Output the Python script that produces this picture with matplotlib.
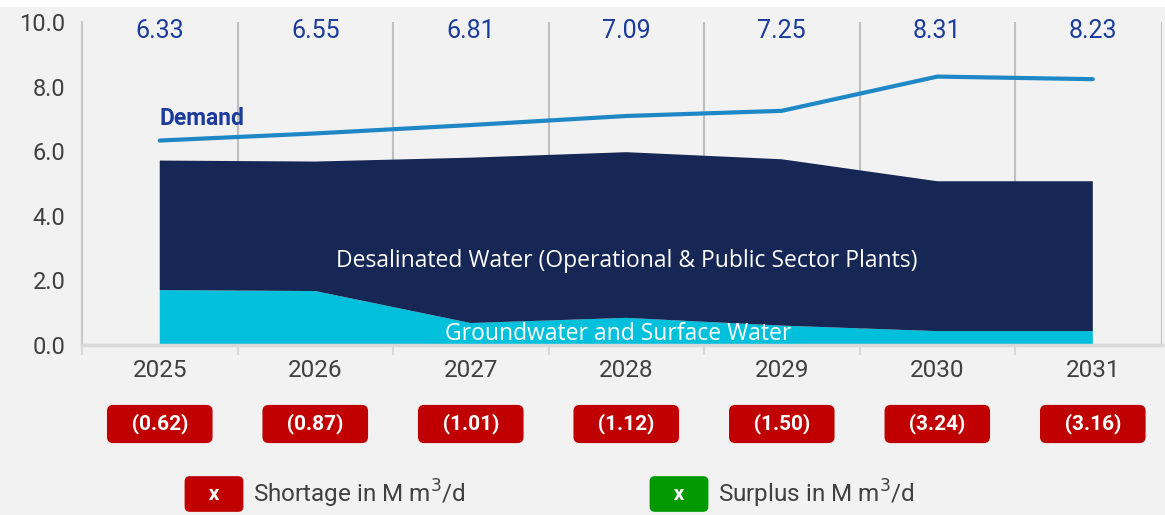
import numpy as np
import matplotlib
matplotlib.use("Agg")
import matplotlib.pyplot as plt
from matplotlib.transforms import blended_transform_factory

# data
years = ["2025", "2026", "2027", "2028", "2029", "2030", "2031"]
demand = [6.33, 6.55, 6.81, 7.09, 7.25, 8.31, 8.23]
groundwater = [1.70, 1.67, 0.68, 0.84, 0.60, 0.43, 0.43]
desalinated = [4.01, 4.01, 5.12, 5.13, 5.15, 4.64, 4.64]
shortage = ["(0.62)", "(0.87)", "(1.01)", "(1.12)", "(1.50)", "(3.24)", "(3.16)"]
y_ticks = [0, 2, 4, 6, 8, 10]

bg = "#f2f2f2"
navy = "#162755"
cyan = "#00c0dc"
line_blue = "#1e88c6"
label_blue = "#1a3a9c"
red = "#c00000"
green = "#009a00"
txt_gray = "#404040"

plt.rcParams['font.family'] = ['Roboto', 'DejaVu Sans']

fig = plt.figure(figsize=(11.65, 5.15), dpi=100, facecolor=bg)
# white strip at the very top
fig.patches.append(plt.Rectangle((0, 1 - 7 / 515), 1, 7 / 515, transform=fig.transFigure,
                                 facecolor="white", edgecolor="none", zorder=0))

ax = fig.add_axes([82 / 1165, 1 - 345 / 515, (1162 - 82) / 1165, (345 - 22) / 515])
ax.set_facecolor(bg)

x = np.arange(len(years))
ax.stackplot(x, groundwater, desalinated, colors=[cyan, navy], linewidth=0, zorder=2)
ax.plot(x, demand, color=line_blue, linewidth=3, solid_capstyle="round", zorder=3)

ax.set_xlim(-0.5, 6.445)
ax.set_ylim(0, 10)

# vertical grid at category boundaries
bounds = np.arange(-0.5, len(years) - 0.5, 1.0)
for b in bounds[1:]:
    ax.axvline(b, color="#bfbfbf", linewidth=1.5, zorder=1)
ax.axvline(6.445, color="#bfbfbf", linewidth=1.5, zorder=1)

for s in ["top", "right"]:
    ax.spines[s].set_visible(False)
ax.spines["left"].set_color("#c8c8c8")
ax.spines["left"].set_linewidth(1.5)
ax.spines["bottom"].set_color("#d9d9d9")
ax.spines["bottom"].set_linewidth(2.5)

ax.set_yticks(y_ticks)
ax.set_yticklabels([f"{v:.1f}" for v in y_ticks], fontsize=17, color=txt_gray)
ax.tick_params(axis="y", length=0, pad=12)
ax.set_xticks(x)
ax.set_xticklabels(years, fontsize=17.5, color=txt_gray)
ax.tick_params(axis="x", which="major", length=0, pad=10)
ax.set_xticks(bounds, minor=True)
ax.tick_params(axis="x", which="minor", length=7, width=1.5, color="#d9d9d9")

# demand values along the top
for xi, d in zip(x, demand):
    ax.text(xi, 9.72, f"{d:.2f}", ha="center", va="center", fontsize=18, color=label_blue)

ax.text(0, 7.0, "Demand", ha="left", va="center", fontsize=16.5, fontweight="bold", color=label_blue)
ax.text(3, 2.6, "Desalinated Water (Operational & Public Sector Plants)", ha="center", va="center",
        fontsize=16.5, color="white", family=["Open Sans", "DejaVu Sans"], zorder=4)
ax.text(2.95, 0.33, "Groundwater and Surface Water", ha="center", va="center",
        fontsize=16.5, color="white", family=["Open Sans", "DejaVu Sans"], zorder=4)

# shortage badges
tr = blended_transform_factory(ax.transData, fig.transFigure)
for xi, s in zip(x, shortage):
    ax.text(xi, 1 - 424 / 515, f"   {s}   ", transform=tr, ha="center", va="center",
            fontsize=15, fontweight="bold", color="white",
            bbox=dict(boxstyle="round,pad=0.42,rounding_size=0.3", facecolor=red, edgecolor="none"),
            clip_on=False)

# legend
ly = 1 - 494 / 515
for bx, col, lab in [(183, red, "Shortage in M m$^3$/d"), (648, green, "Surplus in M m$^3$/d")]:
    fig.text((bx + 31) / 1165, ly, "   x   ", ha="center", va="center", fontsize=15,
             fontweight="bold", color="white",
             bbox=dict(boxstyle="round,pad=0.4,rounding_size=0.25", facecolor=col, edgecolor="none"))
    fig.text((bx + 70) / 1165, ly, lab, ha="left", va="center", fontsize=17.5, color=txt_gray)

fig.savefig("out.png", dpi=100, facecolor=bg)
